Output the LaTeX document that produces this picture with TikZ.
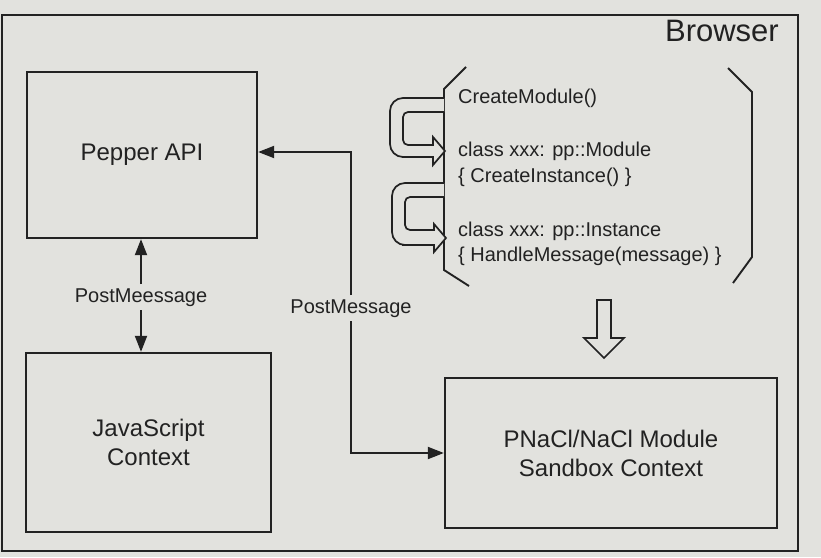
\documentclass[tikz,border=0pt]{standalone}
\usepackage{fontspec}
\setmainfont{Liberation Sans}
\usetikzlibrary{arrows.meta}
\definecolor{bg}{RGB}{226,226,222}
\definecolor{ink}{RGB}{34,34,34}
\begin{document}
\begin{tikzpicture}[x=1pt,y=-1pt,
  box/.style={draw=ink, line width=2.3pt, inner sep=0pt, align=center, text=ink, font=\fontsize{24}{29}\selectfont},
  code/.style={anchor=base west, inner sep=0pt, text=ink, font=\fontsize{20}{24}\selectfont},
  lbl/.style={anchor=base, inner sep=4pt, text=ink, font=\fontsize{20}{24}\selectfont},
  conn/.style={draw=ink, line width=1.9pt, -{Triangle[length=16pt,width=12pt]}},
  plain/.style={draw=ink, line width=1.9pt},
  hollow/.style={draw=ink, line width=1.7pt, fill=bg}]
\fill[bg] (0,0) rectangle (821,557);
\useasboundingbox (0,0) rectangle (821,557);
% frame
\node[draw=ink, line width=2.2pt, minimum width=796pt, minimum height=536pt, inner sep=0pt] (browser) at (400,283) {};
\node[anchor=base east, inner sep=0pt, text=ink, font=\fontsize{31}{36}\selectfont] (blabel) at (779,41) {Browser};
% boxes
\node[box, minimum width=230pt, minimum height=166pt] (pepper) at (142,155) {Pepper API};
\node[box, minimum width=245pt, minimum height=179pt] (js) at (148.5,442.5) {JavaScript\\Context};
\node[box, minimum width=332pt, minimum height=150pt] (pnacl) at (611,453) {PNaCl/NaCl Module\\Sandbox Context};
% code text
\node[code] (t1) at (458,103) {CreateModule()};
\node[code] (t2) at (458,156) {class xxx: pp::Module};
\node[code] (t3) at (458,182) {\{ CreateInstance() \}};
\node[code] (t4) at (458,236) {class xxx: pp::Instance};
\node[code] (t5) at (458,261) {\{ HandleMessage(message) \}};
% brackets
\draw[plain] (466,67) -- (444,89) -- (444,270) -- (469,286);
\draw[plain] (728,68) -- (752,92) -- (752,257) -- (733,283);
% hollow U-turn arrows
\draw[hollow] (444,98) [rounded corners=13pt] -- (390,98) -- (390,157) -- (415,157) [sharp corners] -- (433,157) -- (433,165) -- (445,151) -- (433,137) -- (433,145) -- (420,145) [rounded corners=5pt] -- (403,145) -- (403,112) -- (420,112) [sharp corners] -- (444,112);
\draw[hollow] (444,183) [rounded corners=13pt] -- (392,183) -- (392,245) -- (415,245) [sharp corners] -- (434,245) -- (434,252) -- (446,238) -- (434,224) -- (434,230) -- (420,230) [rounded corners=5pt] -- (405,230) -- (405,197) -- (420,197) [sharp corners] -- (444,197);
% big hollow down arrow
\draw[hollow] (597,300) -- (611,300) -- (611,338) -- (624,338) -- (604,358) -- (584,338) -- (597,338) -- cycle;
% connectors
\node[lbl] (lab1) at (141,302) {PostMeessage};
\draw[conn] (lab1.north) -- (lab1.north |- pepper.south);
\draw[conn] (lab1.south) -- (lab1.south |- js.north);
\node[lbl] (lab2) at (351,313) {PostMessage};
\coordinate (c1) at (351,152);
\draw[conn] (lab2.north) -- (c1) -- (c1 -| pepper.east);
\draw[conn] (lab2.south) |- (pnacl.west);
\end{tikzpicture}
\end{document}
